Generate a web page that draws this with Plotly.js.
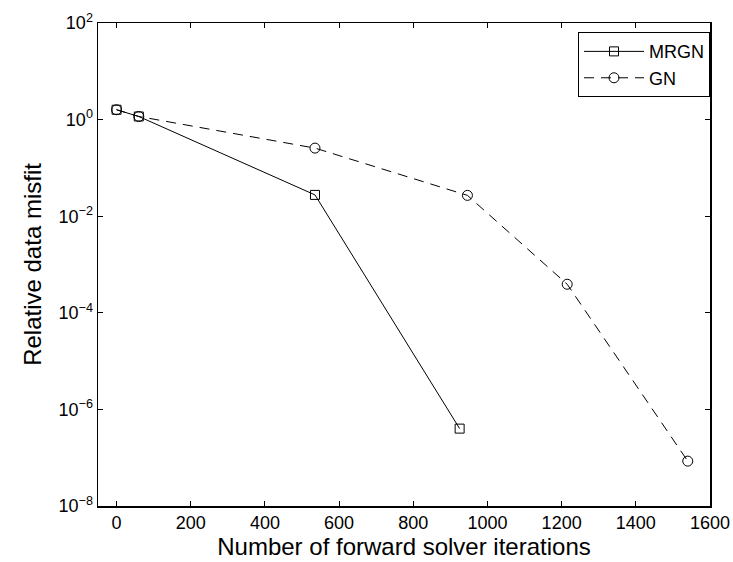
<!DOCTYPE html>
<html>
<head>
<meta charset="utf-8">
<script src="https://cdn.plot.ly/plotly-3.0.1.min.js"></script>
<style>html,body{margin:0;padding:0;background:#fff;}#chart{width:733px;height:562px;}</style>
</head>
<body>
<div id="chart"></div>
<script>
// Data
const mrgnIter = [0, 60, 535, 925];
const mrgnMisfit = [1.6, 1.16, 0.0276, 4.0e-7];
const gnIter = [0, 60, 535, 946, 1215, 1540];
const gnMisfit = [1.6, 1.16, 0.257, 0.027, 3.9e-4, 8.5e-8];
const xTicks = [0, 200, 400, 600, 800, 1000, 1200, 1400, 1600];
const yTickVals = [1e-8, 1e-6, 1e-4, 1e-2, 1e0, 1e2];
const yTickText = ['10<sup>−8</sup>', '10<sup>−6</sup>', '10<sup>−4</sup>', '10<sup>−2</sup>', '10<sup>0</sup>', '10<sup>2</sup>'];

const FONT = '"Liberation Sans", Arial, Helvetica, sans-serif';

const traces = [
  {
    x: mrgnIter, y: mrgnMisfit, name: 'MRGN', type: 'scatter', mode: 'lines+markers',
    line: {color: '#000', width: 1},
    marker: {symbol: 'square-open', size: 9, color: '#000', line: {width: 1, color: '#000'}}
  },
  {
    x: gnIter, y: gnMisfit, name: 'GN', type: 'scatter', mode: 'lines+markers',
    line: {color: '#000', width: 1, dash: '10px,7px'},
    marker: {symbol: 'circle-open', size: 10, color: '#000', line: {width: 1, color: '#000'}}
  }
];

const axisCommon = {
  showline: true, linecolor: '#000', linewidth: 1.5, mirror: 'ticks',
  ticks: 'inside', ticklen: 5, tickwidth: 1, tickcolor: '#000',
  showgrid: false, zeroline: false,
  tickfont: {family: FONT, size: 18, color: '#000'}
};

const layout = {
  width: 733, height: 562,
  margin: {l: 98, r: 23, t: 23, b: 56},
  paper_bgcolor: '#fff', plot_bgcolor: '#fff',
  font: {family: FONT, color: '#000'},
  showlegend: true,
  legend: {
    x: 1, xanchor: 'right', y: 0.981, yanchor: 'top',
    bordercolor: '#000', borderwidth: 1, bgcolor: '#fff',
    font: {family: FONT, size: 18, color: '#000'},
    itemwidth: 60, tracegroupgap: 0
  },
  xaxis: Object.assign({}, axisCommon, {
    range: [-50, 1600], tickvals: xTicks,
    title: {text: 'Number of forward solver iterations', font: {family: FONT, size: 24, color: '#000'}, standoff: 4}
  }),
  yaxis: Object.assign({}, axisCommon, {
    type: 'log', range: [-8, 2], tickvals: yTickVals, ticktext: yTickText,
    title: {text: 'Relative data misfit', font: {family: FONT, size: 24, color: '#000'}, standoff: 10}
  })
};

Plotly.newPlot('chart', traces, layout, {displayModeBar: false, staticPlot: true});
</script>
</body>
</html>
